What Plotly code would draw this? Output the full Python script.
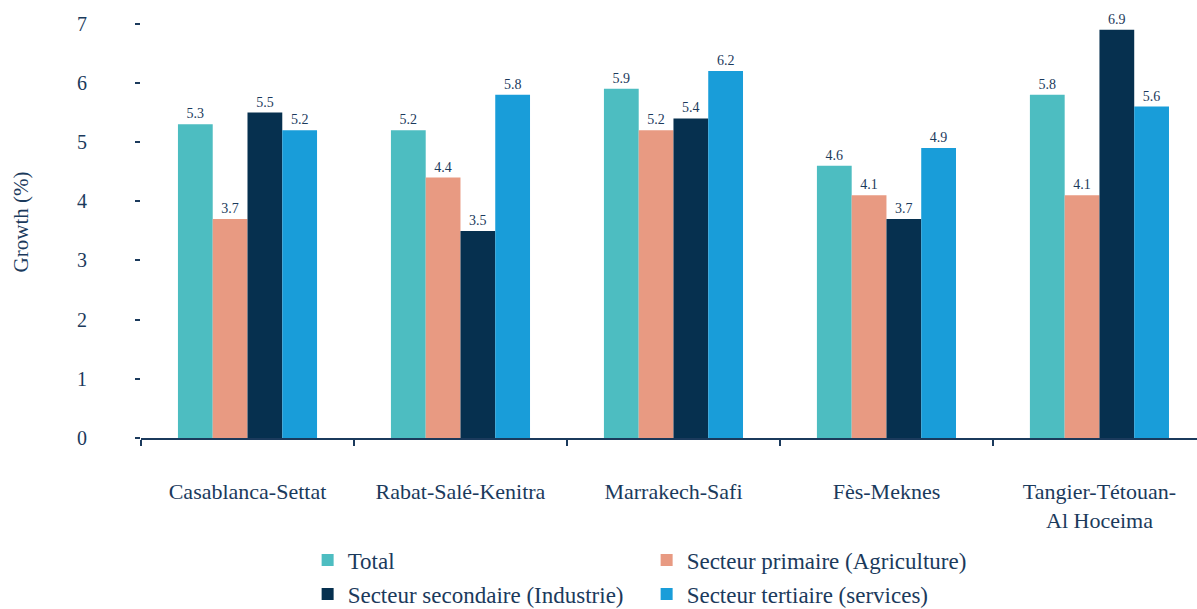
import plotly.graph_objects as go

regions = ["Casablanca-Settat", "Rabat-Salé-Kenitra", "Marrakech-Safi",
           "Fès-Meknes", "Tangier-Tétouan-<br>Al Hoceima"]
total = [5.3, 5.2, 5.9, 4.6, 5.8]
primaire = [3.7, 4.4, 5.2, 4.1, 4.1]
secondaire = [5.5, 3.5, 5.4, 3.7, 6.9]
tertiaire = [5.2, 5.8, 6.2, 4.9, 5.6]

names = ["Total", "Secteur primaire (Agriculture)",
         "Secteur secondaire (Industrie)", "Secteur tertiaire (services)"]
colors = ["#4dbdc1", "#e89a82", "#06304f", "#199dd9"]
navy = "#1b3a5c"
serif = "Liberation Serif, DejaVu Serif, serif"

fig = go.Figure()
for i, (vals, name, col) in enumerate(zip([total, primaire, secondaire, tertiaire], names, colors)):
    fig.add_trace(go.Bar(
        x=regions, y=vals, name=name, marker_color=col, marker_line_width=0,
        text=[f"{v:.1f}" for v in vals], textposition="outside",
        textfont=dict(size=14, color=navy, family=serif),
        cliponaxis=False,
        legend="legend" if i < 2 else "legend2",
    ))

legend_common = dict(orientation="h", xref="container", yref="container",
                     x=0.257, xanchor="left", yanchor="middle",
                     entrywidth=294, font=dict(size=23, color=navy, family=serif),
                     bgcolor="rgba(0,0,0,0)")

fig.update_layout(
    width=1197, height=609,
    margin=dict(l=141, r=0, t=6, b=171),
    plot_bgcolor="white", paper_bgcolor="white",
    barmode="group", bargap=0.347, bargroupgap=0,
    font=dict(family=serif, color=navy),
    legend=dict(legend_common, y=1 - 560 / 609),
    legend2=dict(legend_common, y=1 - 594 / 609),
    showlegend=True,
)
fig.update_xaxes(
    range=[-0.5, 4.458], showline=True, linecolor=navy, linewidth=2,
    ticks="outside", tickson="boundaries", ticklen=6, tickcolor=navy, tickwidth=2,
    ticklabelstandoff=33, tickfont=dict(size=22, color=navy, family=serif),
    showgrid=False, automargin=False,
)
fig.update_yaxes(
    range=[0, 7.3], tickvals=[0, 1, 2, 3, 4, 5, 6, 7], showgrid=False, zeroline=False,
    ticks="outside", ticklen=5, tickwidth=2, tickcolor=navy,
    ticklabelstandoff=44, tickfont=dict(size=20, color=navy, family=serif),
    title=dict(text="Growth (%)", font=dict(size=21, color=navy, family=serif), standoff=42),
    automargin=False,
)

fig.write_html("out.html", config={"displayModeBar": False},
               post_script="document.body.style.margin='0';")
